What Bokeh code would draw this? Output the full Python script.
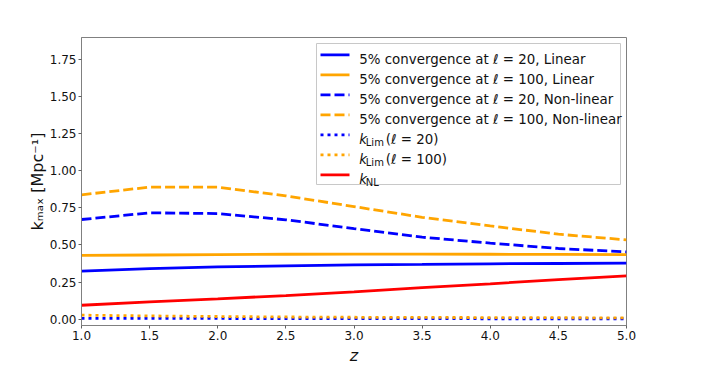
from bokeh.plotting import figure
from bokeh.models import Range1d, FixedTicker, NumeralTickFormatter, Label, BoxAnnotation
from bokeh.embed import file_html
from bokeh.resources import INLINE

# ---- data ----
z = [1.0, 1.5, 2.0, 2.5, 3.0, 3.5, 4.0, 4.5, 5.0]
lin_l20 = [0.323, 0.341, 0.352, 0.359, 0.366, 0.369, 0.373, 0.375, 0.377]
lin_l100 = [0.429, 0.432, 0.435, 0.437, 0.438, 0.438, 0.437, 0.436, 0.435]
nl_l20 = [0.671, 0.716, 0.711, 0.669, 0.610, 0.552, 0.512, 0.476, 0.453]
nl_l100 = [0.837, 0.889, 0.889, 0.830, 0.758, 0.686, 0.628, 0.572, 0.534]
klim_l20 = [0.006, 0.005, 0.005, 0.004, 0.004, 0.004, 0.003, 0.003, 0.003]
klim_l100 = [0.027, 0.022, 0.018, 0.015, 0.013, 0.012, 0.011, 0.010, 0.009]
k_nl = [0.094, 0.117, 0.137, 0.159, 0.184, 0.213, 0.238, 0.267, 0.292]

x_ticks = [1.0, 1.5, 2.0, 2.5, 3.0, 3.5, 4.0, 4.5, 5.0]
y_ticks = [0.0, 0.25, 0.5, 0.75, 1.0, 1.25, 1.5, 1.75]
x_label = "z"
y_label = "k\u2098\u2090\u2093 [Mpc\u207b\u00b9]"

BLUE = "#0000ff"
ORANGE = "#ffa500"
RED = "#ff0000"
FONT = "DejaVu Sans"
LW = 2.8

X0, X1 = 1.0, 5.0
Y0, Y1 = -0.0424, 1.896

p = figure(frame_width=545, frame_height=288, output_backend="svg", toolbar_location=None,
           x_range=Range1d(X0, X1), y_range=Range1d(Y0, Y1),
           min_border_left=81, min_border_right=64, min_border_top=37, min_border_bottom=34)
p.grid.visible = False
p.outline_line_color = "#808080"
p.outline_line_width = 1
for ax in (p.xaxis[0], p.yaxis[0]):
    ax.axis_line_color = "#808080"
    ax.major_tick_line_color = "#606060"
    ax.minor_tick_line_color = None
    ax.major_tick_in = 0
    ax.major_tick_out = 3
    ax.major_label_text_font = FONT
    ax.major_label_text_font_size = "12px"
    ax.major_label_text_color = "#111111"
    ax.major_label_standoff = 2
    ax.axis_label_text_font = FONT
    ax.axis_label_text_font_size = "16px"
    ax.axis_label_text_color = "#111111"
    ax.axis_label_standoff = 0
p.xaxis.ticker = FixedTicker(ticks=x_ticks)
p.yaxis.ticker = FixedTicker(ticks=y_ticks)
p.xaxis.formatter = NumeralTickFormatter(format="0.0")
p.yaxis.formatter = NumeralTickFormatter(format="0.00")
p.xaxis.axis_label = x_label
p.xaxis.axis_label_text_font_style = "italic"
p.xaxis.axis_label_standoff = 3
p.yaxis.axis_label = y_label
p.yaxis.axis_label_text_font_style = "normal"

p.line(z, lin_l20, line_color=BLUE, line_width=LW)
p.line(z, lin_l100, line_color=ORANGE, line_width=LW)
p.line(z, nl_l20, line_color=BLUE, line_width=LW, line_dash="10 4")
p.line(z, nl_l100, line_color=ORANGE, line_width=LW, line_dash="10 4")
p.line(z, klim_l20, line_color=BLUE, line_width=LW, line_dash="3 4")
p.line(z, klim_l100, line_color=ORANGE, line_width=LW, line_dash="3 4")
p.line(z, k_nl, line_color=RED, line_width=LW)

# reference page pixel -> frame-relative placement helpers (legend only)
FL, FR, FT, FB = 89.0, 634.0, 45.0, 333.0
def X(px):
    return X0 + (px - FL) / (FR - FL) * (X1 - X0)
def Y(py):
    return Y1 - (py - FT) / (FB - FT) * (Y1 - Y0)

def lab(x, y, text, size, style="normal"):
    l = Label(x=x - FL, y=FB - y, x_units="screen", y_units="screen", text=text,
              text_font=FONT, text_font_size=f"{size}px",
              text_font_style=style, text_color="#111111",
              text_align="left", text_baseline="alphabetic", level="overlay")
    p.add_layout(l)

# legend frame
box = BoxAnnotation(left=X(324), right=X(628), top=Y(51), bottom=Y(192),
                    fill_color="white", fill_alpha=0.0, line_color="#c8c8c8",
                    line_width=1, line_alpha=1.0)
p.add_layout(box)

items = [
    (BLUE, None, ["5% convergence at \u2113 = 20, Linear"]),
    (ORANGE, None, ["5% convergence at \u2113 = 100, Linear"]),
    (BLUE, "10 4", ["5% convergence at \u2113 = 20, Non-linear"]),
    (ORANGE, "10 4", ["5% convergence at \u2113 = 100, Non-linear"]),
    (BLUE, "3 4", ["k", "Lim", "(\u2113 = 20)"]),
    (ORANGE, "3 4", ["k", "Lim", "(\u2113 = 100)"]),
    (RED, None, ["k", "NL"]),
]
for i, (col, dash, parts) in enumerate(items):
    ry = 62.3 + 20 * i
    kw = dict(line_color=col, line_width=LW)
    if dash:
        kw["line_dash"] = dash
    p.line([X(328), X(357)], [Y(ry), Y(ry)], **kw)
    if len(parts) == 1:
        lab(366.7, ry + 4.5, parts[0], 13.4)
    else:
        lab(366.7, ry + 4.5, parts[0], 13.4, style="italic")
        lab(373.3, ry + 7.5, parts[1], 10)
        if len(parts) > 2:
            lab(393.3, ry + 4.5, parts[2], 13.4)

open("out.html", "w").write(file_html(p, INLINE))
